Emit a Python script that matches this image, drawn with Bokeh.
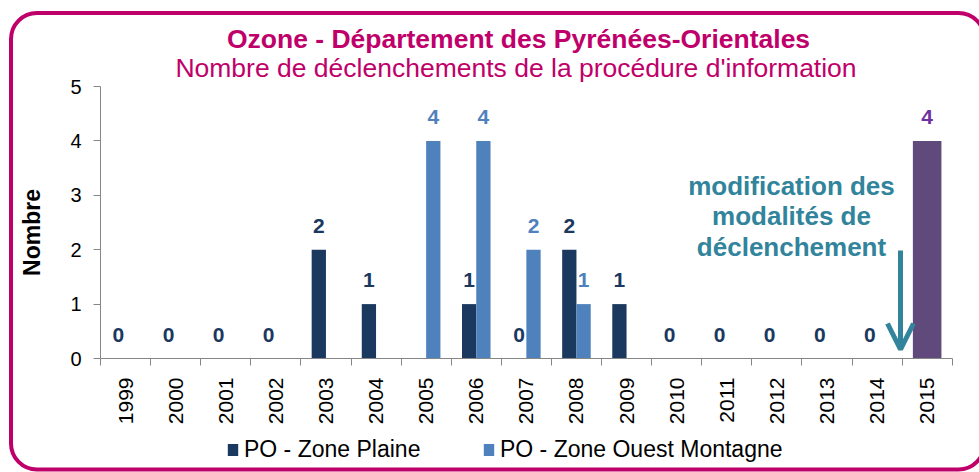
import math
from bokeh.plotting import figure
from bokeh.models import (ColumnDataSource, FixedTicker, Legend, LegendItem,
                          Arrow, OpenHead, Range1d, BoxAnnotation)
from bokeh.transform import dodge
from bokeh.core.properties import value
from bokeh.embed import file_html
from bokeh.resources import INLINE

NaN = float("nan")

# ---------------- data ----------------
years = list(range(1999, 2016))
year_labels = [str(y) for y in years]
plaine = [0, 0, 0, 0, 2, 1, NaN, 1, 0, 2, 1, 0, 0, 0, 0, 0, NaN]
montagne = [NaN, NaN, NaN, NaN, NaN, NaN, 4, 4, 2, 1, NaN, NaN, NaN, NaN, NaN, NaN, NaN]
po_2015 = [NaN] * 16 + [4]
y_ticks = [0, 1, 2, 3, 4, 5]
series_names = ["PO - Zone Plaine", "PO - Zone Ouest Montagne"]
note_lines = ["modification des", "modalités de", "déclenchement"]
title_main = "Ozone - Département des Pyrénées-Orientales"
title_sub = "Nombre de déclenchements de la procédure d'information"
y_title = "Nombre"

# ---------------- styles / layout ----------------
FONT = "Liberation Sans"
C_PLAINE = "#1B385E"
C_MONT = "#4F81BD"
C_PURPLE = "#604A7B"
C_PURPLE_TXT = "#7030A0"
C_TEAL = "#31849B"
C_MAGENTA = "#C0006A"
AXIS_GREY = "#868686"
OFF = 0.1425
BAR_W = 0.285
W, H = 979, 472
AX_L, AX_R, AX_T, AX_B = 100, 951.7, 86, 358      # plot area in canvas pixels
SX = (AX_R - AX_L) / len(years)
SY = (AX_B - AX_T) / y_ticks[-1]
x0 = years[0] - 0.5 - AX_L / SX
x1 = years[-1] + 0.5 + (W - AX_R) / SX
y1 = y_ticks[-1] + AX_T / SY
y0 = -(H - AX_B) / SY

def X(px):
    return x0 + px / SX

def Y(py):
    return y1 - py / SY

def clean(xs, vs):
    xx, yy, tt = [], [], []
    for x, v in zip(xs, vs):
        if not math.isnan(v):
            xx.append(x); yy.append(v); tt.append(str(int(v)))
    return dict(year=xx, val=yy, label=tt)

src_p = ColumnDataSource(dict(year=years, val=plaine))
src_m = ColumnDataSource(dict(year=years, val=montagne))
src_x = ColumnDataSource(dict(year=years, val=po_2015))
lab_p = ColumnDataSource(clean(years, plaine))
lab_m = ColumnDataSource(clean(years, montagne))
lab_x = ColumnDataSource(clean(years, po_2015))

p = figure(width=W, height=H,
           x_range=Range1d(x0, x1), y_range=Range1d(y0, y1),
           output_backend="svg", toolbar_location=None,
           min_border=0, min_border_left=0, min_border_right=0,
           min_border_top=0, min_border_bottom=0)
p.title.visible = False
p.xgrid.visible = False
p.ygrid.visible = False
p.outline_line_color = None
p.background_fill_color = "white"
p.border_fill_color = "white"

# rounded frame around the whole chart
p.add_layout(BoxAnnotation(left=X(10.5), right=X(984), top=Y(12.5), bottom=Y(469),
                           fill_color=None, fill_alpha=0, line_color=C_MAGENTA,
                           line_alpha=1.0, line_width=4, border_radius=26,
                           level="overlay"))

# titles
p.text(x=[X(518), X(515.5)], y=[Y(38.5), Y(67.5)], text=[title_main, title_sub],
       text_align="center", text_baseline="middle", text_font=value(FONT),
       text_font_size="26.5px", text_font_style=["bold", "normal"],
       text_color=C_MAGENTA)
p.text(x=[X(31)], y=[Y(232)], text=[y_title], angle=math.pi / 2,
       text_align="center", text_baseline="middle", text_font=value(FONT),
       text_font_size="23px", text_font_style="bold", text_color="black")

# bars
r1 = p.vbar(x=dodge("year", -OFF, range=p.x_range), top="val", width=BAR_W,
            source=src_p, fill_color=C_PLAINE, line_color=None)
r2 = p.vbar(x=dodge("year", OFF, range=p.x_range), top="val", width=BAR_W,
            source=src_m, fill_color=C_MONT, line_color=None)
p.vbar(x="year", top="val", width=2 * BAR_W, source=src_x,
       fill_color=C_PURPLE, line_color=None)

common = dict(text_align="center", text_baseline="middle", y_offset=-24,
              text_font=value(FONT), text_font_style="bold", text_font_size="21px")
p.text(x=dodge("year", -OFF, range=p.x_range), y="val", text="label", source=lab_p,
       text_color=C_PLAINE, **common)
p.text(x=dodge("year", OFF, range=p.x_range), y="val", text="label", source=lab_m,
       text_color=C_MONT, **common)
p.text(x="year", y="val", text="label", source=lab_x, text_color=C_PURPLE_TXT, **common)

# annotation text + arrow
p.text(x=[X(791)] * 3, y=[Y(185), Y(215.5), Y(246)], text=note_lines,
       text_align="center", text_baseline="middle", text_font=value(FONT),
       text_font_style="bold", text_font_size="26px", text_color=C_TEAL)
p.add_layout(Arrow(end=OpenHead(size=26, line_color=C_TEAL, line_width=5),
                   x_start=X(900), y_start=Y(250), x_end=X(900), y_end=Y(349),
                   line_color=C_TEAL, line_width=5))

# axes (drawn at fixed positions inside the canvas)
p.yaxis.fixed_location = years[0] - 0.5
p.yaxis.bounds = (y_ticks[0], y_ticks[-1])
p.yaxis.ticker = FixedTicker(ticks=y_ticks, minor_ticks=[])
p.yaxis.axis_line_color = AXIS_GREY
p.yaxis.major_tick_line_color = AXIS_GREY
p.yaxis.major_tick_out = 7
p.yaxis.major_tick_in = 0
p.yaxis.major_label_standoff = 12
p.yaxis.major_label_text_font = FONT
p.yaxis.major_label_text_font_size = "20px"
p.yaxis.major_label_text_color = "black"

p.xaxis.fixed_location = 0
p.xaxis.bounds = (years[0] - 0.5, years[-1] + 0.5)
p.xaxis.ticker = FixedTicker(ticks=years, minor_ticks=[y - 0.5 for y in years] + [years[-1] + 0.5])
p.xaxis.major_label_overrides = {y: s for y, s in zip(years, year_labels)}
p.xaxis.axis_line_color = AXIS_GREY
p.xaxis.major_tick_line_color = None
p.xaxis.major_tick_out = 7
p.xaxis.major_tick_in = 0
p.xaxis.minor_tick_line_color = AXIS_GREY
p.xaxis.minor_tick_out = 7
p.xaxis.minor_tick_in = 0
p.xaxis.major_label_orientation = math.pi / 2
p.xaxis.major_label_standoff = 12
p.xaxis.major_label_text_font = FONT
p.xaxis.major_label_text_font_size = "21px"
p.xaxis.major_label_text_color = "black"

# legend (two single-item legends, placed under the axis)
leg_common = dict(label_text_font=FONT, label_text_font_size="23px",
                  label_text_color="black", glyph_width=13, glyph_height=15,
                  label_standoff=5, padding=0, margin=0, border_line_color=None,
                  background_fill_alpha=0)
p.add_layout(Legend(items=[LegendItem(label=series_names[0], renderers=[r1])],
                    location=(226, 9), **leg_common))
p.add_layout(Legend(items=[LegendItem(label=series_names[1], renderers=[r2])],
                    location=(482, 9), **leg_common))

open("out.html", "w").write(file_html(p, INLINE))
